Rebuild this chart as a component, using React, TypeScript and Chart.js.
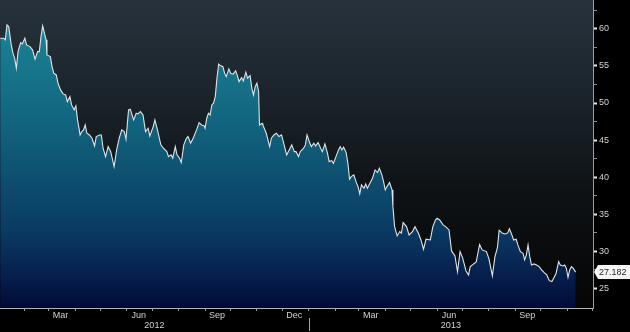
import React, { useEffect, useRef } from 'react';
import { Chart, registerables } from 'chart.js';

Chart.register(...registerables);

// Days counted from 2012-01-01 (day 0)
const days = [
  3, 7, 9, 11, 13, 16, 18, 20, 22, 24,
  27, 29, 32, 34, 38, 41, 44, 47, 49, 51,
  53, 55, 57, 58, 62, 64, 66, 69, 71, 74,
  77, 80, 82, 85, 87, 90, 92, 94, 97, 99,
  101, 103, 105, 108, 111, 114, 116, 120, 122, 124,
  127, 130, 133, 137, 140, 143, 146, 149, 151, 154,
  156, 160, 163, 165, 168, 171, 174, 177, 179, 183,
  185, 188, 192, 195, 199, 201, 204, 206, 209, 211,
  214, 216, 219, 222, 224, 227, 230, 234, 237, 240,
  243, 244, 246, 248, 250, 252, 254, 256, 258, 260,
  262, 265, 267, 269, 272, 274, 277, 280, 282, 284,
  287, 289, 292, 294, 297, 299, 301, 303, 305, 307,
  308, 311, 312, 316, 320, 322, 325, 328, 331, 334,
  337, 340, 343, 346, 349, 351, 354, 356, 360, 362,
  364, 367, 369, 372, 374, 377, 380, 382, 385, 388,
  390, 393, 395, 398, 401, 403, 405, 407, 410, 412,
  414, 416, 419, 422, 424, 426, 428, 431, 433, 435,
  438, 441, 444, 447, 449, 452, 454, 456, 458, 461,
  464, 465, 467, 470, 473, 475, 477, 481, 484, 488,
  491, 495, 498, 501, 504, 509, 512, 515, 517, 520,
  524, 527, 531, 534, 538, 541, 544, 547, 551, 554,
  556, 560, 563, 567, 570, 575, 578, 582, 585, 588,
  590, 594, 597, 600, 602, 605, 607, 610, 612, 615,
  618, 620, 622, 624, 626, 628, 631, 634, 637, 640,
  643, 646, 649, 652, 655, 657, 660, 662, 665, 667,
  669, 671, 673, 675, 677, 680,
];

const prices = [
  58.74, 58.74, 58.52, 60.54, 60.31, 57.84, 56.72, 56.05, 54.7, 56.94,
  58.15, 57.98, 58.74, 57.84, 57.61, 57.17, 55.91, 56.94, 56.94, 58.96,
  60.4, 59.42, 58.52, 56.49, 56.26, 54.91, 54.02, 53.79, 52.67, 51.77,
  51.23, 51.09, 50.19, 50.86, 49.74, 49.07, 49.61, 47.72, 45.69, 46.14,
  46.37, 47.04, 45.92, 45.69, 45.25, 44.21, 45.47, 45.69, 45.69, 43.9,
  42.77, 44.12, 43.44, 41.42, 43.67, 45.25, 46.37, 46.14, 45.11, 49.07,
  49.16, 47.72, 48.62, 48.53, 48.84, 48.39, 46.14, 46.6, 45.56, 46.82,
  47.72, 46.37, 44.35, 43.9, 43.44, 42.77, 43.0, 42.55, 44.12, 43.0,
  42.55, 41.96, 44.35, 45.25, 45.47, 44.57, 45.25, 46.37, 47.35, 47.04,
  46.91, 46.6, 47.95, 48.62, 48.39, 49.74, 49.97, 50.86, 53.35, 55.24,
  55.05, 54.91, 54.02, 53.56, 54.6, 54.02, 53.89, 54.33, 53.7, 52.89,
  53.43, 52.98, 54.16, 53.35, 53.7, 52.0, 51.09, 52.21, 52.67, 51.54,
  47.04, 47.27, 47.04, 45.92, 44.12, 45.25, 45.69, 45.92, 45.47, 45.69,
  44.35, 43.0, 43.67, 44.35, 43.44, 43.44, 42.77, 43.44, 43.9, 44.35,
  45.69, 44.66, 44.12, 44.57, 44.21, 44.66, 43.9, 43.44, 44.48, 43.23,
  42.09, 42.23, 41.88, 42.77, 43.67, 44.12, 43.67, 44.04, 43.31, 41.88,
  39.72, 40.07, 40.3, 39.26, 38.72, 37.73, 38.95, 38.5, 39.08, 38.5,
  39.18, 39.85, 40.97, 40.61, 41.2, 40.3, 39.39, 38.27, 38.72, 39.26,
  38.27, 36.02, 33.32, 32.06, 32.65, 32.43, 33.86, 33.32, 32.2, 32.65,
  33.32, 32.43, 31.52, 30.27, 31.62, 31.52, 33.32, 34.22, 34.45, 34.22,
  33.55, 33.32, 32.87, 30.04, 29.37, 27.25, 29.95, 29.1, 27.34, 26.8,
  27.92, 28.29, 28.56, 30.92, 30.18, 29.95, 28.96, 26.67, 29.23, 30.51,
  32.81, 32.43, 32.33, 32.47, 33.04, 32.2, 31.52, 31.62, 30.85, 29.95,
  29.73, 28.83, 29.5, 30.85, 29.27, 28.15, 28.29, 28.15, 27.92, 27.48,
  27.11, 26.8, 26.03, 25.9, 26.57, 27.03, 28.6, 28.15, 28.02, 28.15,
  27.71, 26.49, 27.48, 27.92, 27.71, 27.182,
];

// Month starts (tick marks) in days from 2012-01-01
const monthStarts = [31, 60, 91, 121, 152, 182, 213, 244, 274, 305, 335, 366, 397, 425, 456, 486, 517, 547, 578, 609, 639, 670, 700];
// Mid-month label positions
const monthLabelDays = [74, 166, 258, 349, 439, 531, 623];
const monthLabels = ['Mar', 'Jun', 'Sep', 'Dec', 'Mar', 'Jun', 'Sep'];
const yearBoundary = 366;
const yearLabels = ['2012', '2013'];
const yTickValues = [25, 27.5, 30, 32.5, 35, 37.5, 40, 42.5, 45, 47.5, 50, 52.5, 55, 57.5, 60, 62.5];
const lastValueLabel = '27.182';

const X_MIN = 2.76;
const X_MAX = 700.4;
const Y_MIN = 22.34;
const Y_MAX = 63.9;

const yearCenters = [(X_MIN + yearBoundary) / 2, (yearBoundary + X_MAX) / 2];

const FONT = 'Liberation Sans';
const LABEL_COLOR = '#d2d2d2';

export default function App() {
  const canvasRef = useRef<HTMLCanvasElement | null>(null);

  useEffect(() => {
    document.body.style.margin = '0';
    const canvas = canvasRef.current;
    if (!canvas) return;

    const bgPlugin = {
      id: 'bgPlugin',
      beforeDraw(chart: any) {
        const { ctx, chartArea, width, height } = chart;
        ctx.save();
        ctx.fillStyle = '#000000';
        ctx.fillRect(0, 0, width, height);
        if (chartArea) {
          const g = ctx.createLinearGradient(0, chartArea.top, 0, chartArea.bottom);
          g.addColorStop(0, '#27323c');
          g.addColorStop(0.33, '#1a232a');
          g.addColorStop(0.62, '#0e1215');
          g.addColorStop(1, '#050505');
          ctx.fillStyle = g;
          ctx.fillRect(chartArea.left, chartArea.top, chartArea.right - chartArea.left, chartArea.bottom - chartArea.top);
        }
        ctx.restore();
      },
    };

    const overlayPlugin = {
      id: 'overlayPlugin',
      afterDraw(chart: any) {
        const { ctx, chartArea, scales } = chart;
        const xs = scales.x;
        const ys = scales.y;
        ctx.save();
        // year separator
        const sx = Math.round(xs.getPixelForValue(yearBoundary)) + 0.5;
        ctx.strokeStyle = '#a8a8a8';
        ctx.lineWidth = 1;
        ctx.beginPath();
        ctx.moveTo(sx, chartArea.bottom + 10);
        ctx.lineTo(sx, chartArea.bottom + 23);
        ctx.stroke();
        // last value label
        const py = ys.getPixelForValue(prices[prices.length - 1]);
        const x0 = chartArea.right + 1;
        ctx.fillStyle = '#f4f4f4';
        ctx.beginPath();
        ctx.moveTo(x0, py);
        ctx.lineTo(x0 + 4, py - 7);
        ctx.lineTo(chart.width, py - 7);
        ctx.lineTo(chart.width, py + 7);
        ctx.lineTo(x0 + 4, py + 7);
        ctx.closePath();
        ctx.fill();
        ctx.fillStyle = '#2a2a2a';
        ctx.font = `9px "${FONT}"`;
        ctx.textBaseline = 'middle';
        ctx.textAlign = 'left';
        ctx.fillText(lastValueLabel, x0 + 5, py + 0.5);
        ctx.restore();
      },
    };

    const chart = new Chart(canvas, {
      type: 'line',
      data: {
        datasets: [
          {
            data: days.map((d, i) => ({ x: d, y: prices[i] })),
            borderColor: '#dfe4e7',
            borderWidth: 1.1,
            pointRadius: 0,
            tension: 0,
            fill: 'start',
            backgroundColor: (context: any) => {
              const { chart: c } = context;
              const { ctx, chartArea } = c;
              if (!chartArea) return 'rgba(20,110,140,1)';
              const g = ctx.createLinearGradient(0, chartArea.top, 0, chartArea.bottom);
              g.addColorStop(0, '#1d95aa');
              g.addColorStop(0.15, '#187d91');
              g.addColorStop(0.4, '#12647e');
              g.addColorStop(0.55, '#0e5272');
              g.addColorStop(0.75, '#0a3a63');
              g.addColorStop(0.9, '#061e4c');
              g.addColorStop(1, '#030a35');
              return g;
            },
          },
        ],
      },
      options: {
        animation: false,
        responsive: true,
        maintainAspectRatio: false,
        layout: { padding: 0 },
        plugins: {
          legend: { display: false },
          tooltip: { enabled: false },
        },
        scales: {
          x: {
            type: 'linear',
            position: 'bottom',
            weight: 0,
            min: X_MIN,
            max: X_MAX,
            afterBuildTicks: (s: any) => {
              s.ticks = [...monthStarts, ...monthLabelDays]
                .sort((a, b) => a - b)
                .map((v) => ({ value: v }));
            },
            afterFit: (s: any) => {
              s.height = 12;
              s.paddingLeft = 0;
              s.paddingRight = 0;
            },
            ticks: {
              autoSkip: false,
              maxRotation: 0,
              minRotation: 0,
              padding: -1,
              color: LABEL_COLOR,
              font: { family: FONT, size: 9 },
              callback: (v: any) => {
                const i = monthLabelDays.indexOf(Number(v));
                return i >= 0 ? monthLabels[i] : '';
              },
            },
            grid: {
              drawOnChartArea: false,
              drawTicks: true,
              tickLength: 3,
              tickColor: (c: any) =>
                c.tick && monthStarts.includes(c.tick.value) ? '#9c9c9c' : 'rgba(0,0,0,0)',
            },
            border: { display: true, color: '#b4b4b4', width: 1 },
          },
          x2: {
            type: 'linear',
            position: 'bottom',
            weight: 1,
            min: X_MIN,
            max: X_MAX,
            afterBuildTicks: (s: any) => {
              s.ticks = yearCenters.map((v) => ({ value: v }));
            },
            afterFit: (s: any) => {
              s.height = 12;
              s.paddingLeft = 0;
              s.paddingRight = 0;
            },
            ticks: {
              autoSkip: false,
              maxRotation: 0,
              minRotation: 0,
              padding: 0,
              color: LABEL_COLOR,
              font: { family: FONT, size: 9 },
              callback: (_v: any, i: number) => yearLabels[i],
            },
            grid: { display: false, drawTicks: false, drawOnChartArea: false },
            border: { display: false },
          },
          y: {
            type: 'linear',
            position: 'right',
            min: Y_MIN,
            max: Y_MAX,
            afterBuildTicks: (s: any) => {
              s.ticks = yTickValues.map((v) => ({ value: v }));
            },
            afterFit: (s: any) => {
              s.width = 37;
              s.paddingTop = 0;
              s.paddingBottom = 0;
            },
            ticks: {
              autoSkip: false,
              padding: 2,
              color: LABEL_COLOR,
              font: { family: FONT, size: 9 },
              callback: (v: any) => (Number(v) % 5 === 0 ? String(v) : ''),
            },
            grid: {
              drawOnChartArea: false,
              drawTicks: true,
              tickLength: 4,
              tickColor: (c: any) =>
                c.tick && c.tick.value % 5 === 0 ? '#ececec' : '#8a8a8a',
              tickWidth: (c: any) => (c.tick && c.tick.value % 5 === 0 ? 2 : 1),
            },
            border: { display: true, color: '#9c9c9c', width: 1 },
          },
        },
      } as any,
      plugins: [bgPlugin, overlayPlugin],
    });

    return () => {
      chart.destroy();
    };
  }, []);

  return (
    <div style={{ position: 'absolute', left: 0, top: 0, width: 630, height: 332, background: '#000' }}>
      <canvas ref={canvasRef} />
    </div>
  );
}
